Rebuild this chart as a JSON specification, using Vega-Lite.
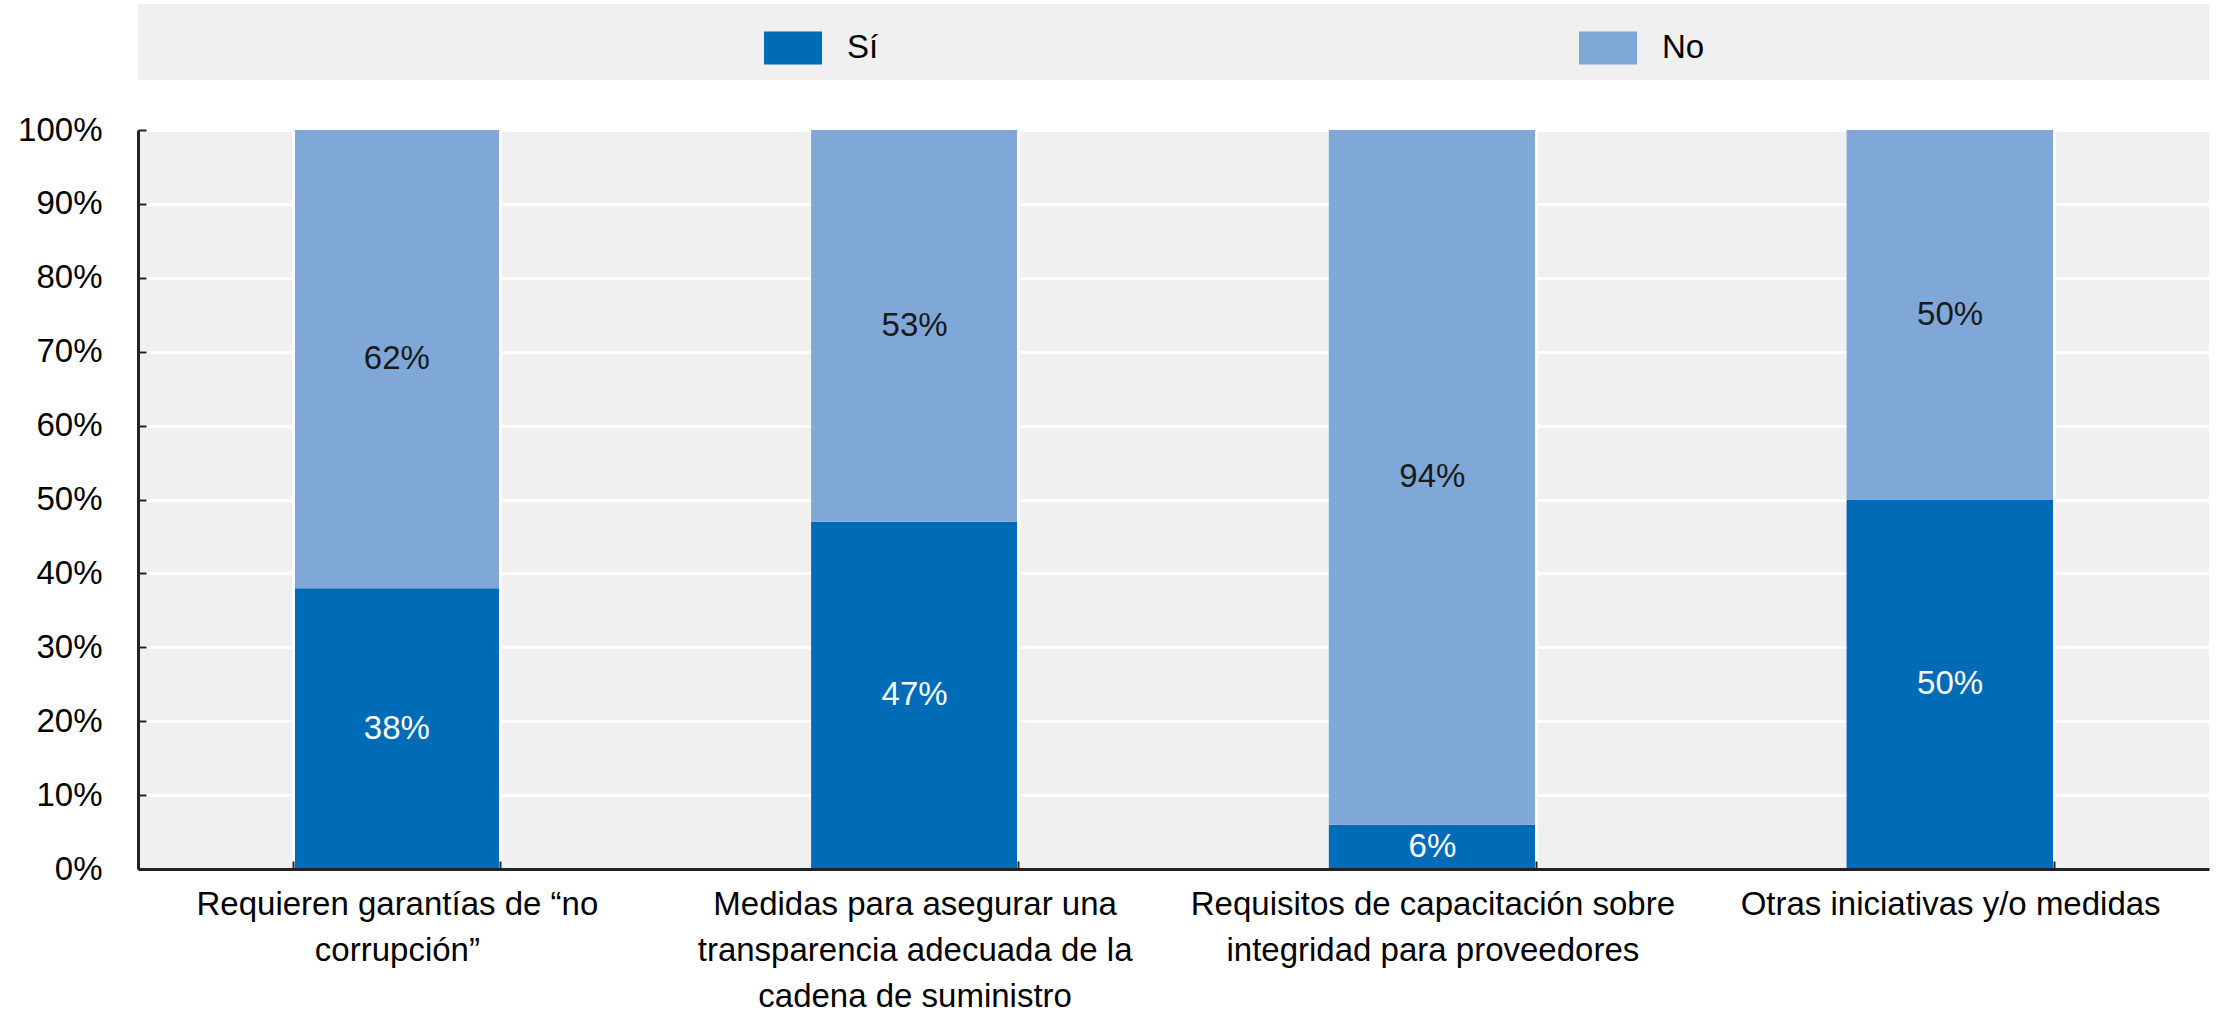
{
  "$schema": "https://vega.github.io/schema/vega-lite/v6.json",
  "background": "white",
  "padding": {"left": 17, "top": 4, "right": 5, "bottom": 5},
  "config": {
    "font": "Liberation Sans",
    "view": {"stroke": null},
    "concat": {"spacing": 50}
  },
  "datasets": {
    "encuesta": [
      {"categoria": "Requieren garantías de “no\ncorrupción”", "serie": "Sí", "valor": 0.38},
      {"categoria": "Requieren garantías de “no\ncorrupción”", "serie": "No", "valor": 0.62},
      {"categoria": "Medidas para asegurar una\ntransparencia adecuada de la\ncadena de suministro", "serie": "Sí", "valor": 0.47},
      {"categoria": "Medidas para asegurar una\ntransparencia adecuada de la\ncadena de suministro", "serie": "No", "valor": 0.53},
      {"categoria": "Requisitos de capacitación sobre\nintegridad para proveedores", "serie": "Sí", "valor": 0.06},
      {"categoria": "Requisitos de capacitación sobre\nintegridad para proveedores", "serie": "No", "valor": 0.94},
      {"categoria": "Otras iniciativas y/o medidas", "serie": "Sí", "valor": 0.50},
      {"categoria": "Otras iniciativas y/o medidas", "serie": "No", "valor": 0.50}
    ]
  },
  "data": {"name": "encuesta"},
  "bounds": "flush",
  "vconcat": [
    {
      "width": 2071,
      "height": 76,
      "view": {"fill": "#f0f0f0", "stroke": null},
      "mark": {"type": "point", "opacity": 0},
      "encoding": {}
    },
    {
      "width": 2071,
      "height": 739,
      "view": {"fill": "#f0f0f0", "stroke": null},
      "transform": [
        {"stack": "valor", "groupby": ["categoria"], "sort": [{"field": "serie", "order": "descending"}], "as": ["y0", "y1"]},
        {"calculate": "(datum.y0 + datum.y1) / 2", "as": "ymid"}
      ],
      "encoding": {
        "x": {
          "field": "categoria",
          "type": "nominal",
          "sort": null,
          "scale": {"paddingInner": 0.6, "paddingOuter": 0.3},
          "axis": {
            "title": null,
            "labelAngle": 0,
            "labelExpr": "split(datum.label, '\\n')",
            "labelFontSize": 33,
            "labelLineHeight": 46,
            "labelColor": "#000000",
            "labelLimit": 700,
            "labelPadding": 27,
            "labelBaseline": "top",
            "tickBand": "extent",
            "tickSize": -8,
            "tickWidth": 2,
            "tickColor": "#222222",
            "grid": true,
            "gridColor": "#ffffff",
            "gridWidth": 3,
            "domainColor": "#222222",
            "domainWidth": 3,
            "zindex": 1
          }
        }
      },
      "layer": [
        {
          "mark": {"type": "bar"},
          "encoding": {
            "y": {
              "field": "y0",
              "type": "quantitative",
              "scale": {"domain": [0, 1], "nice": false},
              "axis": {
                "title": null,
                "values": [0, 0.1, 0.2, 0.3, 0.4, 0.5, 0.6, 0.7, 0.8, 0.9, 1],
                "format": ".0%",
                "labelFontSize": 33,
                "labelColor": "#000000",
                "labelPadding": 44,
                "tickSize": -8,
                "tickWidth": 2,
                "tickColor": "#222222",
                "grid": true,
                "gridColor": "#ffffff",
                "gridWidth": 3,
                "domainColor": "#222222",
                "domainWidth": 3
              }
            },
            "y2": {"field": "y1"},
            "color": {
              "field": "serie",
              "type": "nominal",
              "scale": {"domain": ["Sí", "No"], "range": ["#006bb6", "#7fa8d9"]},
              "legend": {
                "title": null,
                "orient": "none",
                "legendX": 626,
                "legendY": 15,
                "direction": "horizontal",
                "symbolType": "M-1,-0.57H1V0.57H-1Z",
                "symbolSize": 3364,
                "symbolStrokeWidth": 0,
                "symbolOpacity": 1,
                "labelFontSize": 33,
                "labelColor": "#000000",
                "labelOffset": 25,
                "columnPadding": 700,
                "padding": 0
              }
            }
          }
        },
        {
          "mark": {"type": "text", "fontSize": 33, "baseline": "middle", "align": "center"},
          "encoding": {
            "y": {"field": "ymid", "type": "quantitative"},
            "text": {"field": "valor", "type": "quantitative", "format": ".0%"},
            "color": {
              "condition": {"test": "datum.serie === 'Sí'", "value": "#ffffff"},
              "value": "#1a1a1a"
            }
          }
        }
      ]
    }
  ]
}
